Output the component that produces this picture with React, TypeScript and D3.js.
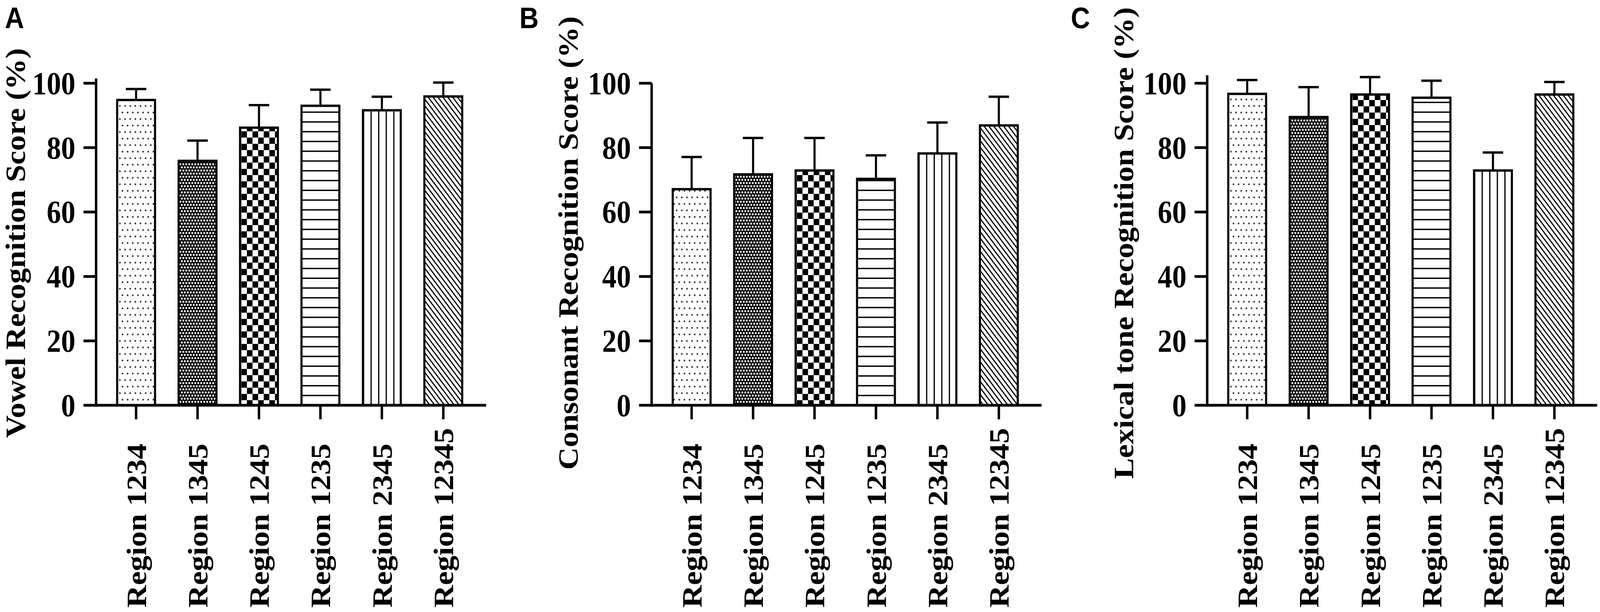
import React from "react";
import * as d3 from "d3";

const width = 4562;
const height = 1566;

const regions = [
  "Region 1234",
  "Region 1345",
  "Region 1245",
  "Region 1235",
  "Region 2345",
  "Region 12345",
];
const fills = ["dots", "mesh", "checker", "hlines", "vlines", "diag"];
const yTicks = [0, 20, 40, 60, 80, 100];

// mean and upper SD per region
const vowelMeans = [94.8, 75.9, 86.2, 93.0, 91.6, 95.9];
const vowelErrs = [3.4, 6.3, 7.0, 5.0, 4.2, 4.3];
const consonantMeans = [67.1, 71.7, 72.9, 70.3, 78.2, 86.9];
const consonantErrs = [10.0, 11.3, 10.1, 7.3, 9.6, 8.9];
const toneMeans = [96.7, 89.5, 96.5, 95.5, 72.9, 96.5];
const toneErrs = [4.3, 9.3, 5.4, 5.3, 5.6, 3.9];

const panelLetters = ["A", "B", "C"];
const panelTitles = [
  "Vowel Recognition Score (%)",
  "Consonant Recognition Score (%)",
  "Lexical tone Recognition Score (%)",
];
const panelTops = [101.5, 100, 102.5];

const panels = [
  { means: vowelMeans, errs: vowelErrs, dx: 0, letterX: 14, titleX: 71 },
  { means: consonantMeans, errs: consonantErrs, dx: 1584, letterX: 1481, titleX: 1647 },
  { means: toneMeans, errs: toneErrs, dx: 3168, letterX: 3053, titleX: 3231 },
];

const serif = "'Liberation Serif', 'Times New Roman', serif";
const sans = "'Liberation Sans', Arial, sans-serif";

const axisX0 = 274;
const axisLen = 1112;
const y0 = 1037;
const y100 = 213;
const tickLen = 36;
const axisStroke = 7;
const barStroke = 6;

const yScale = d3.scaleLinear().domain([0, 100]).range([y0, y100]);

const Patterns = () => (
  <defs>
    <pattern id="dots" patternUnits="userSpaceOnUse" width={14.7} height={33.4}>
      <rect width={14.7} height={33.4} fill="white" />
      <circle cx={3.7} cy={4} r={2.3} fill="#222" />
      <circle cx={11.05} cy={20.7} r={2.3} fill="#222" />
    </pattern>
    <pattern id="mesh" patternUnits="userSpaceOnUse" width={8.5} height={16}>
      <rect width={8.5} height={16} fill="black" />
      <rect x={1.8} y={1.8} width={4.9} height={4.9} fill="white" />
      <rect x={6.05} y={9.8} width={4.9} height={4.9} fill="white" />
      <rect x={-2.45} y={9.8} width={4.9} height={4.9} fill="white" />
    </pattern>
    <pattern id="checker" patternUnits="userSpaceOnUse" width={32} height={32}>
      <rect width={32} height={32} fill="white" />
      <rect width={16} height={16} fill="black" />
      <rect x={16} y={16} width={16} height={16} fill="black" />
    </pattern>
    <pattern id="hlines" patternUnits="userSpaceOnUse" width={20} height={25}>
      <rect width={20} height={25} fill="white" />
      <line x1={0} x2={20} y1={12} y2={12} stroke="black" strokeWidth={3.5} />
    </pattern>
    <pattern id="vlines" patternUnits="objectBoundingBox" width={0.2} height={1}>
      <rect width={200} height={2000} fill="white" />
      <line x1={1.8} x2={1.8} y1={0} y2={2000} stroke="black" strokeWidth={3.5} />
    </pattern>
    <pattern
      id="diag"
      patternUnits="userSpaceOnUse"
      width={10.7}
      height={10.7}
      patternTransform="rotate(-40)"
    >
      <rect width={10.7} height={10.7} fill="white" />
      <line x1={5} x2={5} y1={0} y2={10.7} stroke="black" strokeWidth={3.2} />
    </pattern>
  </defs>
);

const Panel = ({ index }: { index: number }) => {
  const { means, errs, dx, letterX, titleX } = panels[index];
  const axisX = axisX0 + dx;

  const xScale = d3
    .scaleBand()
    .domain(regions)
    .range([axisX, axisX + 1104])
    .paddingInner(0.384)
    .paddingOuter(0.343);
  const bw = xScale.bandwidth();
  const capW = bw * 0.54;

  return (
    <g>
      {/* panel letter */}
      <text
        x={letterX}
        y={72}
        fontFamily={sans}
        fontWeight="bold"
        fontSize={76}
        fill="black"
      >
        {panelLetters[index]}
      </text>

      {/* y axis title */}
      <text
        transform={`translate(${titleX},${622}) rotate(-90)`}
        textAnchor="middle"
        fontFamily={serif}
        fontWeight="bold"
        fontSize={80}
      >
        {panelTitles[index]}
      </text>

      {/* bars */}
      {regions.map((r, i) => (
        <rect
          key={r}
          x={xScale(r)}
          y={yScale(means[i])}
          width={bw}
          height={yScale(0) - yScale(means[i])}
          fill={`url(#${fills[i]})`}
          stroke="black"
          strokeWidth={barStroke}
        />
      ))}

      {/* error bars, upper only */}
      {regions.map((r, i) => {
        const cx = (xScale(r) || 0) + bw / 2;
        const top = yScale(means[i] + errs[i]);
        return (
          <g key={r} stroke="black" strokeWidth={barStroke}>
            <line x1={cx} x2={cx} y1={yScale(means[i])} y2={top} />
            <line x1={cx - capW / 2} x2={cx + capW / 2} y1={top} y2={top} />
          </g>
        );
      })}

      {/* y axis */}
      <line
        x1={axisX}
        x2={axisX}
        y1={yScale(0) + axisStroke / 2}
        y2={yScale(panelTops[index])}
        stroke="black"
        strokeWidth={axisStroke}
      />
      {yTicks.map((t) => (
        <g key={t}>
          <line
            x1={axisX - tickLen}
            x2={axisX}
            y1={yScale(t)}
            y2={yScale(t)}
            stroke="black"
            strokeWidth={axisStroke}
          />
          <text
            x={axisX - 59}
            y={yScale(t)}
            dy="0.34em"
            textAnchor="end"
            fontFamily={serif}
            fontWeight="bold"
            fontSize={82}
          >
            {t}
          </text>
        </g>
      ))}

      {/* x axis */}
      <line
        x1={axisX}
        x2={axisX + axisLen}
        y1={yScale(0)}
        y2={yScale(0)}
        stroke="black"
        strokeWidth={axisStroke}
      />
      {regions.map((r) => {
        const cx = (xScale(r) || 0) + bw / 2;
        return (
          <g key={r}>
            <line
              x1={cx}
              x2={cx}
              y1={yScale(0)}
              y2={yScale(0) + tickLen}
              stroke="black"
              strokeWidth={axisStroke}
            />
            <text
              transform={`translate(${cx + 28},${1555}) rotate(-90)`}
              textAnchor="start"
              fontFamily={serif}
              fontWeight="bold"
              fontSize={80}
            >
              {r}
            </text>
          </g>
        );
      })}
    </g>
  );
};

export default function App() {
  // the page viewport is narrower than the figure; stretch the figure to fill it
  return (
    <div
      style={{
        position: "absolute",
        left: 0,
        top: 0,
        width: "100vw",
        height: "100vh",
        overflow: "hidden",
        background: "white",
      }}
    >
      <svg
        width="100%"
        height="100%"
        viewBox={`0 0 ${width} ${height}`}
        preserveAspectRatio="none"
        style={{ display: "block" }}
      >
        <rect width={width} height={height} fill="white" />
        <Patterns />
        {panels.map((_, i) => (
          <Panel key={i} index={i} />
        ))}
      </svg>
    </div>
  );
}
